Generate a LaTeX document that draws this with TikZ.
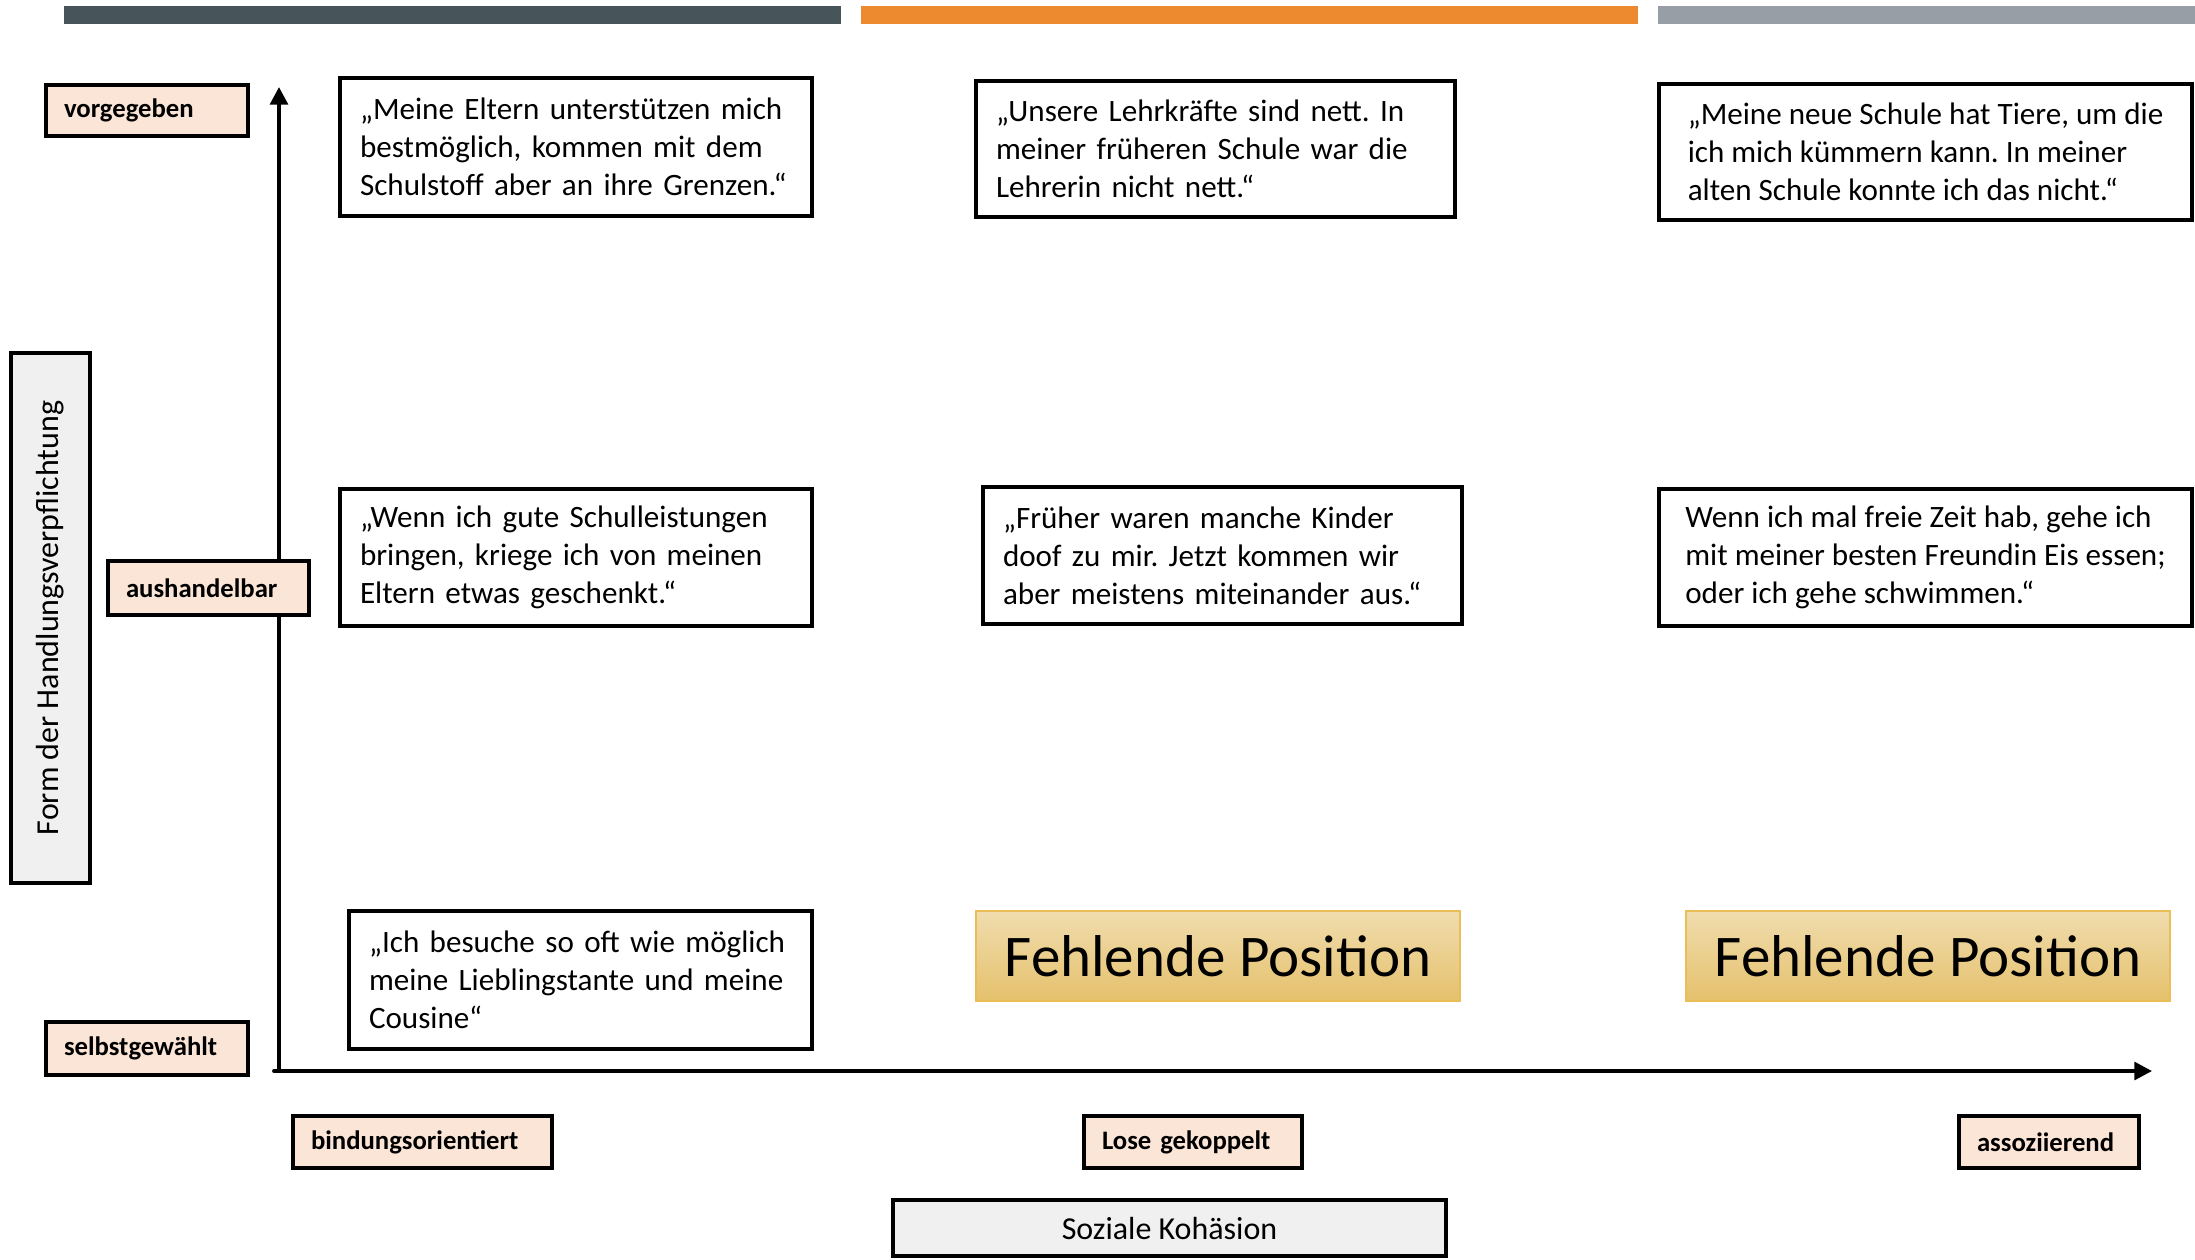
\documentclass[tikz,border=0pt]{standalone}
\usepackage{fontspec}
\setmainfont{Carlito}
\usepackage{xcolor}
\usepackage{tikz}
\usetikzlibrary{arrows.meta}
\frenchspacing

\definecolor{bardark}{HTML}{47545A}
\definecolor{barorange}{HTML}{ED8A2F}
\definecolor{bargray}{HTML}{979EA6}
\definecolor{peach}{HTML}{FBE5D6}
\definecolor{lightgray}{HTML}{F0F0F0}
\definecolor{goldtop}{HTML}{F0DCAE}
\definecolor{goldbot}{HTML}{E5C16C}
\definecolor{goldline}{HTML}{E9BE58}

\begin{document}
\begin{tikzpicture}[x=1cm, y=-1cm,
  quotebox/.style={draw=black, line width=1pt, fill=white, inner xsep=0.2cm, inner ysep=0pt,
    align=left, font=\fontsize{8.85}{10.8}\selectfont},
  catlabel/.style={draw=black, line width=1pt, fill=peach, inner xsep=0.18cm, inner ysep=0pt,
    align=left, font=\fontsize{7.6}{9}\selectfont\bfseries},
  axisname/.style={draw=black, line width=1pt, fill=lightgray, inner sep=0pt,
    font=\fontsize{9.1}{11}\selectfont},
  missing/.style={draw=goldline, line width=0.6pt, top color=goldtop, bottom color=goldbot,
    inner sep=0pt, minimum width=4.84cm, minimum height=0.9cm, font=\fontsize{16.8}{20}\selectfont}]
\useasboundingbox (0,0) rectangle (21.95,12.59);

% bars on top
\fill[bardark] (0.64,0.06) rectangle (8.41,0.24);
\fill[barorange] (8.61,0.06) rectangle (16.38,0.24);
\fill[bargray] (16.58,0.06) rectangle (21.95,0.24);

% axes
\coordinate (ystart) at (2.79,10.73);
\coordinate (ytop) at (2.79,0.87);
\coordinate (xstart) at (2.74,10.71);
\coordinate (xend) at (21.52,10.71);
\draw[black, line width=1.1pt, -{Triangle[length=5pt, width=5pt]}] (ystart) -- (ytop);
\draw[black, line width=1.1pt, line cap=round, -{Triangle[length=5pt, width=5pt]}] (xstart) -- (xend);

% y labels
\path (1.47,1.105) node[catlabel, text width=1.66cm, minimum height=0.51cm] (vorg) {vorgegeben};
\path (2.085,5.88) node[catlabel, text width=1.65cm, minimum height=0.54cm] (aush) {aushandelbar};
\path (1.47,10.485) node[catlabel, text width=1.66cm, minimum height=0.53cm] (selbst) {selbstgewählt};
\path (0.505,6.18) node[axisname, rotate=90, minimum width=5.30cm, minimum height=0.79cm] (form) {Form der Handlungsverpflichtung};

% x labels
\path (4.225,11.42) node[catlabel, text width=2.23cm, minimum height=0.52cm] (bind) {bindungsorientiert};
\path (11.93,11.42) node[catlabel, text width=1.82cm, minimum height=0.52cm] (lose) {Lose gekoppelt};
\path (20.49,11.42) node[catlabel, text width=1.44cm, minimum height=0.52cm] (asso) {assoziierend};
\path (11.695,12.28) node[axisname, minimum width=5.53cm, minimum height=0.56cm] (kohaesion) {Soziale Kohäsion};

% quotes
\path (5.76,1.47) node[quotebox, text width=4.32cm, minimum height=1.38cm] (q11)
  {„Meine Eltern unterstützen mich\\bestmöglich, kommen mit dem\\Schulstoff aber an ihre Grenzen.“};
\path (12.155,1.49) node[quotebox, text width=4.39cm, minimum height=1.36cm] (q21)
  {„Unsere Lehrkräfte sind nett. In\\meiner früheren Schule war die\\Lehrerin nicht nett.“};
\path (19.255,1.52) node[quotebox, minimum width=5.33cm, minimum height=1.36cm] (q31)
  {„Meine neue Schule hat Tiere, um die\\ich mich kümmern kann. In meiner\\alten Schule konnte ich das nicht.“};
\path (5.76,5.575) node[quotebox, text width=4.32cm, minimum height=1.37cm] (q12)
  {„Wenn ich gute Schulleistungen\\bringen, kriege ich von meinen\\Eltern etwas geschenkt.“};
\path (12.225,5.555) node[quotebox, text width=4.39cm, minimum height=1.37cm] (q22)
  {„Früher waren manche Kinder\\doof zu mir. Jetzt kommen wir\\aber meistens miteinander aus.“};
\path (19.255,5.575) node[quotebox, minimum width=5.33cm, minimum height=1.37cm] (q32)
  {Wenn ich mal freie Zeit hab, gehe ich\\mit meiner besten Freundin Eis essen;\\oder ich gehe schwimmen.“};
\path (5.805,9.8) node[quotebox, text width=4.23cm, minimum height=1.38cm] (q13)
  {„Ich besuche so oft wie möglich\\meine Lieblingstante und meine\\Cousine“};

% missing positions
\path (12.18,9.56) node[missing] (miss2) {Fehlende Position};
\path (19.28,9.56) node[missing] (miss3) {Fehlende Position};
\end{tikzpicture}
\end{document}
